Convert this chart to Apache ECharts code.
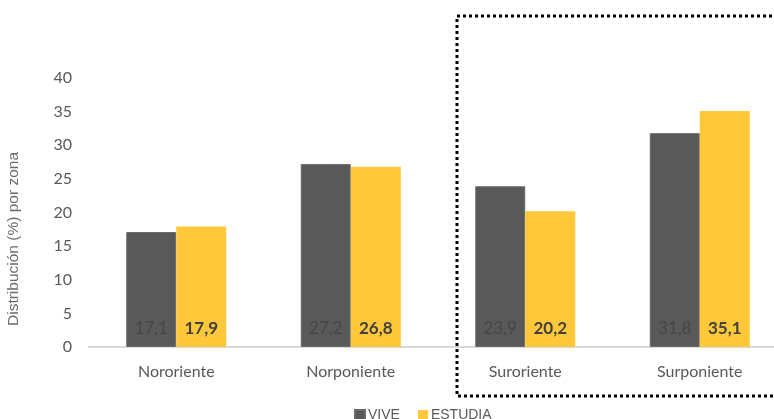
<!DOCTYPE html>
<html>
<head>
<meta charset="utf-8">
<script src="https://cdn.jsdelivr.net/npm/echarts@6/dist/echarts.min.js"></script>
<style>
  html, body { margin: 0; padding: 0; background: #ffffff; }
  #chart { width: 774px; height: 419px; }
</style>
</head>
<body>
<div id="chart"></div>
<script>
// Zones and the share (%) of people who live / study in each one
const zonas = ['Nororiente', 'Norponiente', 'Suroriente', 'Surponiente'];
const vive = [17.1, 27.2, 23.9, 31.8];
const estudia = [17.9, 26.8, 20.2, 35.1];
const yTicks = [0, 5, 10, 15, 20, 25, 30, 35, 40];

const fmt = v => String(v).replace('.', ',');
const calibriLike = 'Lato, "Open Sans", sans-serif';
const arialLike = '"Liberation Sans", Arial, sans-serif';

const chart = echarts.init(document.getElementById('chart'), null, { renderer: 'canvas' });

chart.setOption({
  animation: false,
  backgroundColor: '#ffffff',
  grid: {
    left: 89, top: 78, width: 698, height: 269,
    containLabel: false,
    outerBoundsMode: 'none'
  },
  legend: {
    data: ['VIVE', 'ESTUDIA'],
    top: 403,
    left: 349,
    itemWidth: 10,
    itemHeight: 10,
    itemGap: 18,
    icon: 'rect',
    textStyle: { fontFamily: arialLike, fontSize: 14, color: '#595959', padding: [0, 0, 0, -2] }
  },
  xAxis: {
    type: 'category',
    data: zonas,
    axisLine: { lineStyle: { color: '#d9d9d9', width: 2 } },
    axisTick: { show: false },
    axisLabel: { fontFamily: calibriLike, fontSize: 16, color: '#595959', margin: 17 }
  },
  yAxis: {
    type: 'value',
    min: yTicks[0],
    max: yTicks[yTicks.length - 1],
    interval: 5,
    axisLine: { show: false },
    axisTick: { show: false },
    splitLine: { show: false },
    axisLabel: { fontFamily: calibriLike, fontSize: 16, color: '#595959', margin: 17 }
  },
  series: [
    {
      name: 'VIVE',
      type: 'bar',
      data: vive,
      barWidth: 50,
      barGap: '0%',
      itemStyle: { color: '#595959', borderColor: '#6a6a6a', borderWidth: 1 },
      label: {
        show: true,
        position: 'insideBottom',
        distance: 10,
        formatter: p => fmt(p.value),
        fontFamily: calibriLike,
        fontSize: 17,
        color: '#464646'
      }
    },
    {
      name: 'ESTUDIA',
      type: 'bar',
      data: estudia,
      barWidth: 50,
      itemStyle: { color: '#FFC73A' },
      label: {
        show: true,
        position: 'insideBottom',
        distance: 10,
        formatter: p => fmt(p.value),
        fontFamily: calibriLike,
        fontSize: 17,
        fontWeight: 'bold',
        color: '#404040'
      }
    }
  ],
  graphic: [
    {
      type: 'text',
      x: 14,
      y: 239,
      rotation: Math.PI / 2,
      style: {
        text: 'Distribución (%) por zona',
        fontFamily: arialLike,
        fontSize: 15.5,
        fill: '#6b6b6b',
        align: 'center',
        verticalAlign: 'middle'
      }
    },
    {
      type: 'rect',
      shape: { x: 457, y: 16, width: 340, height: 380 },
      style: { fill: 'none', stroke: '#000000', lineWidth: 3, lineDash: [3, 3] },
      z: 100
    }
  ]
});
</script>
</body>
</html>
